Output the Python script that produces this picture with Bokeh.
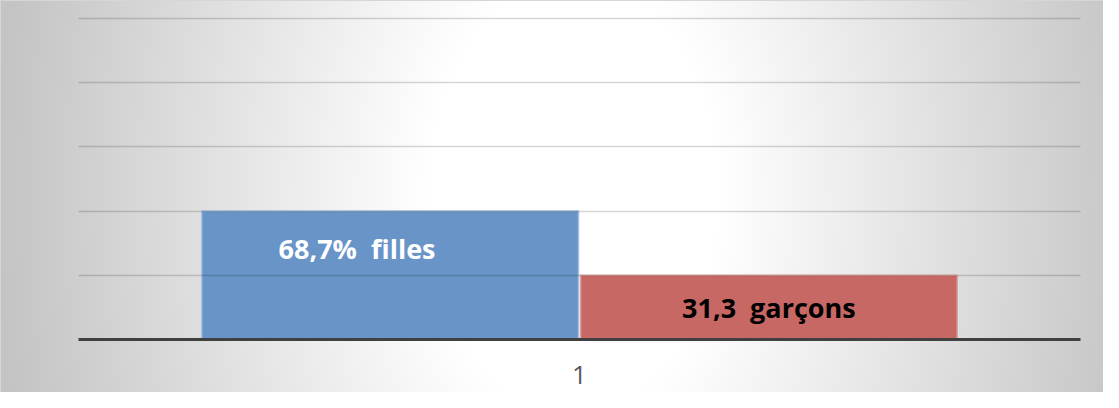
from bokeh.plotting import figure
from bokeh.models import FactorRange, Range1d, SingleIntervalTicker, ColumnDataSource
from bokeh.transform import dodge
from bokeh.embed import file_html
from bokeh.resources import INLINE
from bokeh.core.properties import value

# ---- data ----
categories = ["1"]
series = ["filles", "garçons"]
heights = [2.0, 1.0]          # bar heights in grid units (axis 0..5, unlabeled)
bar_labels = ["68,7%\u00a0 filles", "31,3\u00a0 garçons"]
colors = ["#6894c8", "#c86864"]
edge_colors = ["#a3bde0", "#dca3a1"]
label_colors = ["#ffffff", "#000000"]

# ---- style constants ----
offsets = [-0.189, 0.189]
bar_width = 0.376
label_dx = [-0.033, 0.0]      # label shift from bar centre (factor units)
label_frac = [0.705, 0.5]     # label height as fraction of bar top

p = figure(
    width=1103, height=392,
    x_range=FactorRange(factors=categories),
    y_range=Range1d(0, 5.03),
    output_backend="svg", toolbar_location=None,
    min_border_left=78, min_border_right=23,
    min_border_top=16, min_border_bottom=53,
)
p.border_fill_color = None
p.background_fill_color = None
p.outline_line_color = None
p.styles = {
    "background": "radial-gradient(ellipse 52% 220% at 52% 50%, #ffffff 0%, #ffffff 25%, #c4c4c4 100%)",
    "box-shadow": "inset 1px 1px 0 #d6d6d6",
}

for i, s in enumerate(series):
    src = ColumnDataSource(dict(cat=categories, top=[heights[i]],
                                ly=[heights[i] * label_frac[i]], txt=[bar_labels[i]]))
    p.vbar(x=dodge("cat", offsets[i], range=p.x_range), top="top", bottom=0,
           width=bar_width, source=src, fill_color=colors[i],
           line_color=edge_colors[i], line_width=1.5)
    p.text(x=dodge("cat", offsets[i] + label_dx[i], range=p.x_range), y="ly",
           text="txt", source=src, text_font=value("Open Sans"),
           text_font_style="bold", text_font_size="27px",
           text_color=label_colors[i], text_align="center",
           text_baseline="middle")

p.yaxis.visible = False
p.xgrid.visible = False
p.ygrid.ticker = SingleIntervalTicker(interval=1)
p.ygrid.grid_line_color = "#000000"
p.ygrid.grid_line_alpha = 0.16
p.ygrid.grid_line_width = 1.5
p.ygrid.level = "overlay"

ax = p.xaxis[0]
ax.axis_line_color = "#404040"
ax.axis_line_width = 3
ax.major_tick_line_color = None
ax.minor_tick_line_color = None
ax.major_label_text_font = "Open Sans"
ax.major_label_text_font_size = "26px"
ax.major_label_text_color = "#595959"
ax.major_label_text_line_height = 1.0
ax.major_label_standoff = 20

open("out.html", "w").write(file_html(p, INLINE))
